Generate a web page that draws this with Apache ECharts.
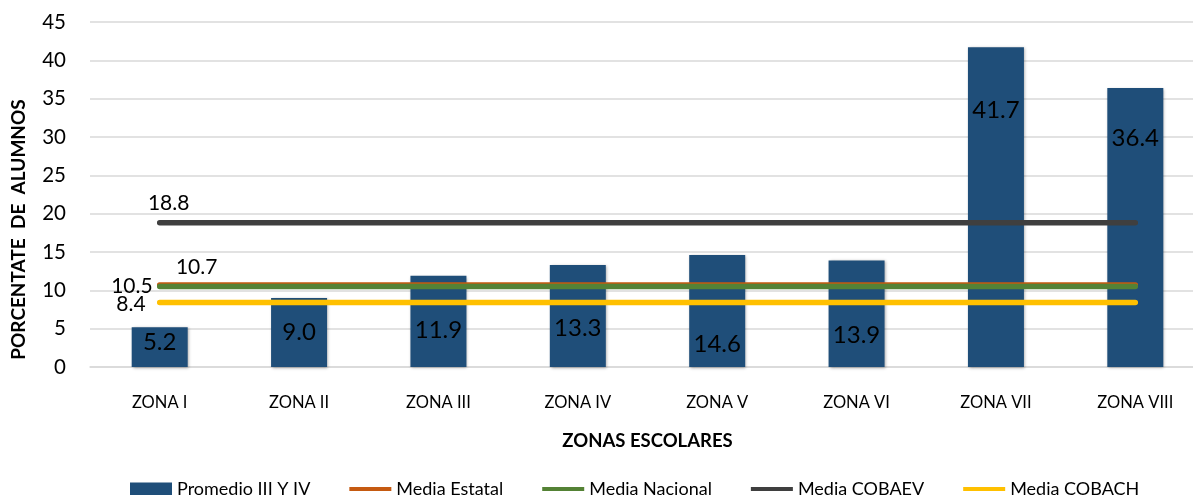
<!DOCTYPE html>
<html>
<head>
<meta charset="utf-8">
<script src="https://cdn.jsdelivr.net/npm/echarts@6/dist/echarts.min.js"></script>
<style>
  html, body { margin: 0; padding: 0; background: #fff; }
  #chart { width: 1193px; height: 495px; }
</style>
</head>
<body>
<div id="chart"></div>
<script>
// datos
const zonas = ['ZONA I', 'ZONA II', 'ZONA III', 'ZONA IV', 'ZONA V', 'ZONA VI', 'ZONA VII', 'ZONA VIII']
const promedio = [5.2, 9.0, 11.9, 13.3, 14.6, 13.9, 41.7, 36.4]
const mediaEstatal = 10.7
const mediaNacional = 10.5
const mediaCobaev = 18.8
const mediaCobach = 8.4

// desplazamiento vertical de las etiquetas de barra (como en el original)
const labelDy = [-5, 0, 9, 12, 33, 22, -97, -89]

const font = 'Lato, "Open Sans", sans-serif'

// serie horizontal: solo el primer punto lleva etiqueta
const lineData = (value, labelPos, offset) => zonas.map((z, i) => i === 0
  ? { value: value, label: { show: true, position: labelPos, offset: offset } }
  : value)

const lineSeries = (name, value, color, labelPos, offset) => ({
  name: name,
  type: 'line',
  symbol: 'circle',
  symbolSize: 0,
  showSymbol: true,
  data: lineData(value, labelPos, offset),
  lineStyle: { color: color, width: 5.5, cap: 'round' },
  itemStyle: { color: color },
  label: {
    show: false,
    color: '#000',
    fontSize: 21,
    fontFamily: font,
    formatter: p => p.value.toFixed(1)
  },
  z: 3
})

// icono de leyenda: barra fina centrada dentro de una caja 42x13
const lineIcon = 'path://M0,0L0.01,0M0,13L0.01,13M0,4.5H42V8.5H0Z'

const chart = echarts.init(document.getElementById('chart'))
chart.setOption({
  animation: false,
  textStyle: { fontFamily: font },
  grid: { left: 90, right: -12, top: 22, bottom: 128, outerBoundsMode: 'none' },
  legend: {
    bottom: -8,
    left: 125,
    itemWidth: 42,
    itemHeight: 13,
    itemGap: 39,
    textStyle: { fontSize: 18, color: '#000', fontFamily: font },
    data: [
      { name: 'Promedio III Y IV', icon: 'rect' },
      { name: 'Media Estatal', icon: lineIcon },
      { name: 'Media Nacional', icon: lineIcon },
      { name: 'Media COBAEV', icon: lineIcon },
      { name: 'Media COBACH', icon: lineIcon }
    ]
  },
  xAxis: {
    type: 'category',
    data: zonas,
    name: 'ZONAS ESCOLARES',
    nameLocation: 'middle',
    nameGap: 65,
    nameTextStyle: { fontSize: 18.5, fontWeight: 'bold', color: '#000', fontFamily: font },
    axisLine: { show: true, lineStyle: { color: '#D9D9D9', width: 1.5 } },
    axisTick: { show: false },
    axisLabel: { fontSize: 16.5, color: '#000', margin: 27, fontFamily: font }
  },
  yAxis: {
    type: 'value',
    min: 0,
    max: 45,
    interval: 5,
    name: 'PORCENTATE  DE  ALUMNOS',
    nameLocation: 'middle',
    nameGap: 62,
    nameRotate: 90,
    nameTextStyle: {
      fontSize: 19, fontWeight: 'bold', color: '#000', fontFamily: font,
      padding: [0, 70, 0, 0]
    },
    axisLine: { show: false },
    axisTick: { show: false },
    axisLabel: { fontSize: 20.5, color: '#000', margin: 24, fontFamily: font },
    splitLine: { lineStyle: { color: '#D9D9D9', width: 1.5 } }
  },
  series: [
    {
      name: 'Promedio III Y IV',
      type: 'bar',
      barWidth: 56,
      data: promedio.map((v, i) => ({ value: v, label: { offset: [0, labelDy[i]] } })),
      itemStyle: {
        color: '#1F4E79',
        shadowBlur: 3,
        shadowColor: 'rgba(0,0,0,0.35)',
        shadowOffsetX: 1,
        shadowOffsetY: 1
      },
      label: {
        show: true,
        position: 'inside',
        color: '#000',
        fontSize: 24,
        fontFamily: font,
        formatter: p => p.value.toFixed(1)
      },
      z: 2
    },
    lineSeries('Media Estatal', mediaEstatal, '#C55A11', 'top', [37, -2]),
    lineSeries('Media Nacional', mediaNacional, '#548235', 'left', [-2, 0]),
    lineSeries('Media COBAEV', mediaCobaev, '#3F3F3F', 'top', [9, -4]),
    lineSeries('Media COBACH', mediaCobach, '#FFC000', 'left', [-9, 2])
  ]
})
</script>
</body>
</html>
